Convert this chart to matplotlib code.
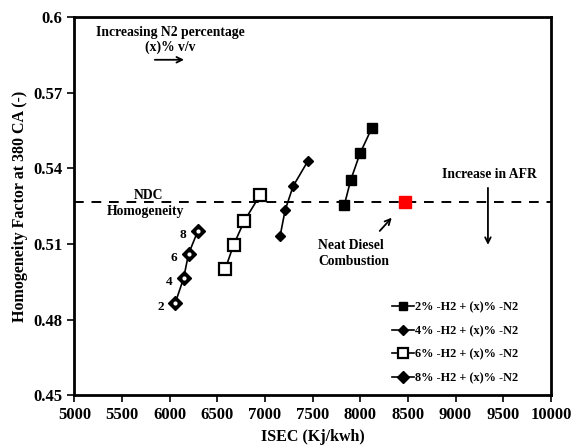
import matplotlib.pyplot as plt

plt.rcParams['font.family'] = 'Liberation Serif'
plt.rcParams['font.weight'] = 'bold'

# ISEC (Kj/kwh) and homogeneity factor for each H2 blend, N2 increasing 2..8 %
isec_h2_2 = [7833, 7900, 7998, 8120]
hf_h2_2 = [0.5254, 0.5353, 0.5459, 0.5558]
isec_h2_4 = [7159, 7212, 7296, 7453]
hf_h2_4 = [0.5131, 0.5234, 0.5329, 0.5430]
isec_h2_6 = [6583, 6670, 6785, 6950]
hf_h2_6 = [0.5000, 0.5095, 0.5192, 0.5294]
isec_h2_8 = [6059, 6146, 6198, 6297]
hf_h2_8 = [0.4866, 0.4963, 0.5060, 0.5152]
n2_labels = ['2', '4', '6', '8']

ndc_isec = 8470
ndc_hf = 0.5265

fig, ax = plt.subplots(figsize=(5.72, 4.45), dpi=100)
fig.subplots_adjust(left=0.13, right=0.963, top=0.962, bottom=0.112)

ax.axhline(ndc_hf, color='black', linestyle=(0, (5, 4)), linewidth=1.4, zorder=1)

ax.plot(isec_h2_2, hf_h2_2, '-s', color='black', markersize=7, linewidth=1.2,
        label='2% -H2 + (x)% -N2')
ax.plot(isec_h2_4, hf_h2_4, '-D', color='black', markersize=5.5, linewidth=1.2,
        label='4% -H2 + (x)% -N2')
ax.plot(isec_h2_6, hf_h2_6, '-s', color='black', markerfacecolor='white',
        markeredgewidth=1.6, markersize=8, linewidth=1.2,
        label='6% -H2 + (x)% -N2')
ax.plot(isec_h2_8, hf_h2_8, '-D', color='black', markersize=7, linewidth=1.2,
        label='8% -H2 + (x)% -N2')
ax.plot(isec_h2_8, hf_h2_8, 'o', color='white', markersize=2, zorder=5)

ax.plot([ndc_isec], [ndc_hf], 's', color='red', markersize=9, zorder=6)

for x, y, t in zip(isec_h2_8, hf_h2_8, n2_labels):
    ax.text(x - 120, y - 0.0015, t, ha='right', va='center', fontsize=9.5)

fs = 9.8
ax.text(6010, 0.5940, 'Increasing N2 percentage', ha='center', va='center', fontsize=fs)
ax.text(6010, 0.5881, '(x)% v/v', ha='center', va='center', fontsize=fs)
ax.annotate('', xy=(6180, 0.5830), xytext=(5815, 0.5830),
            arrowprops=dict(arrowstyle='->', color='black', lw=1.3))

ax.text(5780, 0.5292, 'NDC', ha='center', va='center', fontsize=fs)
ax.text(5745, 0.5230, 'Homogeneity', ha='center', va='center', fontsize=fs)

ax.text(7560, 0.5095, 'Neat Diesel', ha='left', va='center', fontsize=fs)
ax.text(7560, 0.5030, 'Combustion', ha='left', va='center', fontsize=fs)
ax.annotate('', xy=(8350, 0.5212), xytext=(8185, 0.5143),
            arrowprops=dict(arrowstyle='->', color='black', lw=1.3))

ax.text(9360, 0.5377, 'Increase in AFR', ha='center', va='center', fontsize=fs)
ax.annotate('', xy=(9340, 0.5085), xytext=(9340, 0.5333),
            arrowprops=dict(arrowstyle='->', color='black', lw=1.3))

ax.set_xlim(5000, 10000)
ax.set_ylim(0.45, 0.6)
ax.set_xticks(range(5000, 10001, 500))
ax.set_yticks([0.45, 0.48, 0.51, 0.54, 0.57, 0.6])
ax.set_yticklabels(['0.45', '0.48', '0.51', '0.54', '0.57', '0.6'])
ax.tick_params(labelsize=12, width=1.2, length=5, direction='out')
for s in ax.spines.values():
    s.set_linewidth(2)

ax.set_xlabel('ISEC (Kj/kwh)', fontsize=11.5, fontweight='bold')
ax.set_ylabel('Homogeneity Factor at 380 CA (-)', fontsize=11.5, fontweight='bold')

ax.legend(loc='lower right', bbox_to_anchor=(0.955, 0.0), frameon=False,
          fontsize=8.8, handlelength=1.8, handletextpad=0.1, labelspacing=0.95,
          markerscale=0.85)

fig.savefig('out.png', dpi=100)
